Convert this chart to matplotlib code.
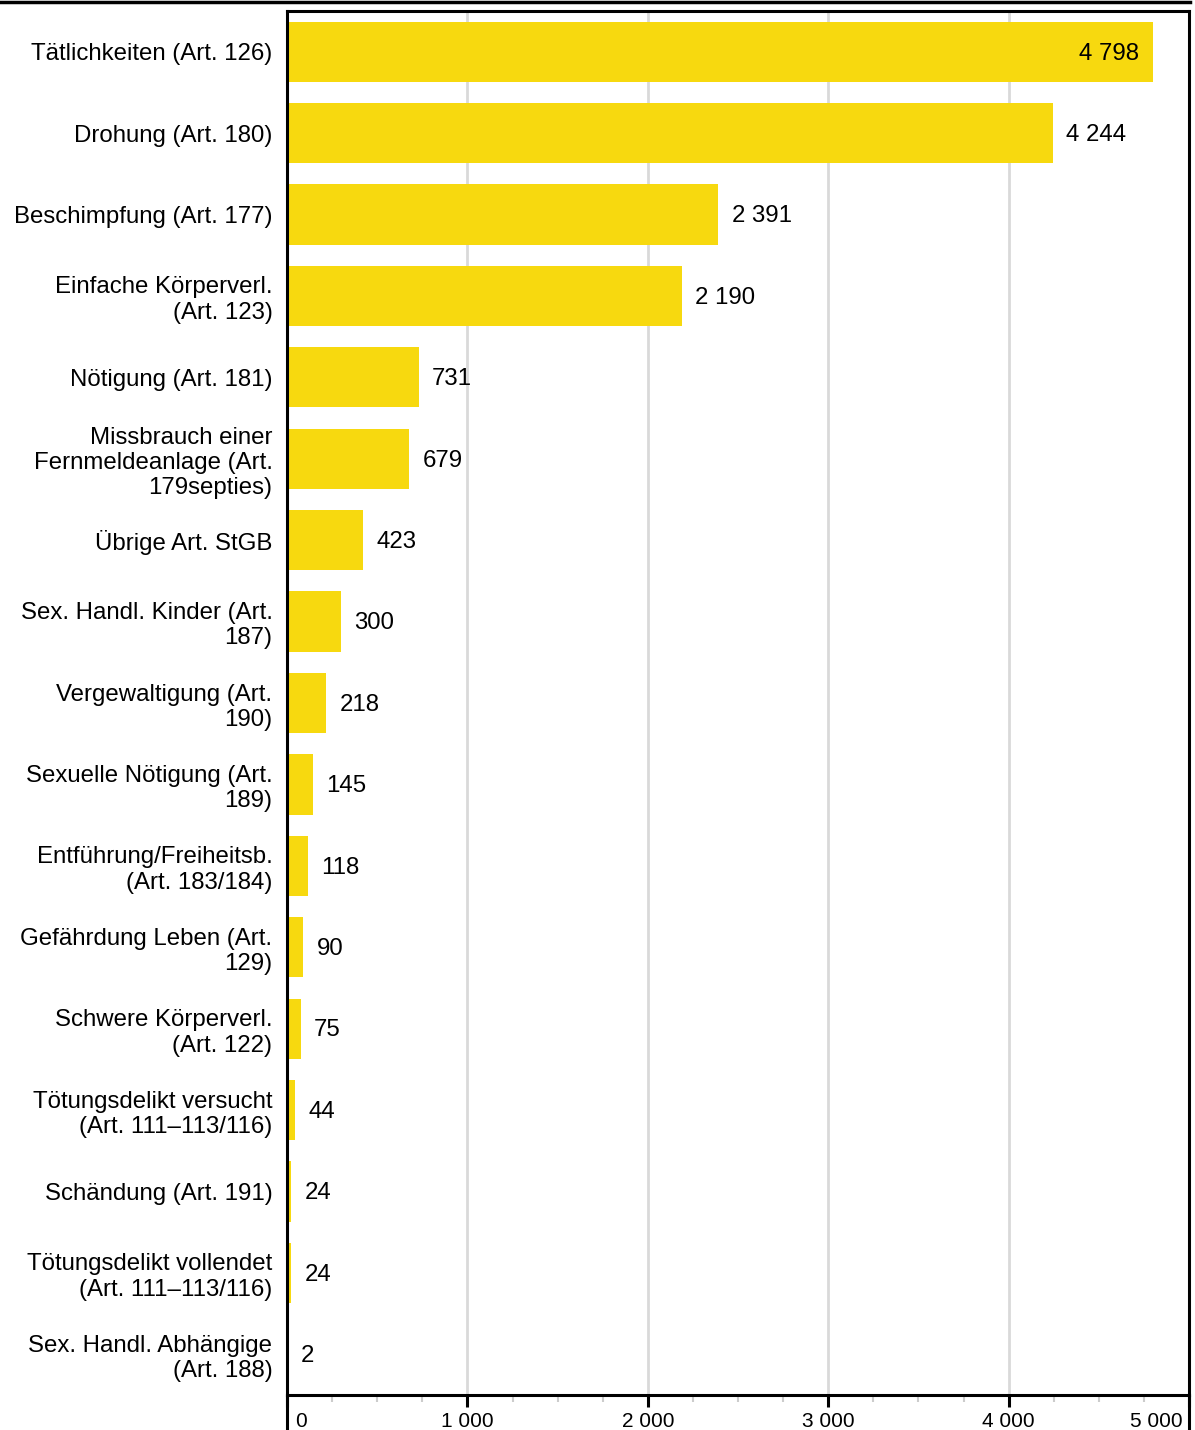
import matplotlib
matplotlib.use("Agg")
import matplotlib.pyplot as plt
from matplotlib.lines import Line2D
from matplotlib.ticker import MultipleLocator, FixedLocator

plt.rcParams['font.family'] = ['Liberation Sans', 'DejaVu Sans']

categories = [
    "Tätlichkeiten (Art. 126)",
    "Drohung (Art. 180)",
    "Beschimpfung (Art. 177)",
    "Einfache Körperverl.\n(Art. 123)",
    "Nötigung (Art. 181)",
    "Missbrauch einer\nFernmeldeanlage (Art.\n179septies)",
    "Übrige Art. StGB",
    "Sex. Handl. Kinder (Art.\n187)",
    "Vergewaltigung (Art.\n190)",
    "Sexuelle Nötigung (Art.\n189)",
    "Entführung/Freiheitsb.\n(Art. 183/184)",
    "Gefährdung Leben (Art.\n129)",
    "Schwere Körperverl.\n(Art. 122)",
    "Tötungsdelikt versucht\n(Art. 111–113/116)",
    "Schändung (Art. 191)",
    "Tötungsdelikt vollendet\n(Art. 111–113/116)",
    "Sex. Handl. Abhängige\n(Art. 188)",
]
values = [4798, 4244, 2391, 2190, 731, 679, 423, 300, 218, 145, 118, 90, 75, 44, 24, 24, 2]
x_ticks = [0, 1000, 2000, 3000, 4000, 5000]
x_ticklabels = ["0", "1 000", "2 000", "3 000", "4 000", "5 000"]

def fmt(v):
    return f"{v:,}".replace(",", " ")

FS = 17.3
W, H = 1195, 1430
fig = plt.figure(figsize=(W / 100, H / 100), dpi=100)
ax = fig.add_axes([287 / W, 1 - 1395 / H, (1189 - 287) / W, (1395 - 11) / H])

ypos = list(range(len(categories)))
ax.barh(ypos, values, height=0.74, color="#F7D90F", zorder=2)
ax.set_ylim(len(categories) - 0.5, -0.5)
ax.set_xlim(0, 5000)

ax.tick_params(axis="y", length=0, pad=10.5, labelsize=FS)
ax.tick_params(axis="x", which="major", length=8.5, width=2.2, color="black",
               labelbottom=False)
ax.tick_params(axis="x", which="minor", length=5, width=1.5, color="#cccccc")

ax.set_yticks(ypos)
ax.set_yticklabels(categories, fontsize=FS, ha="right", linespacing=1.2)

ax.xaxis.set_major_locator(FixedLocator(x_ticks))
ax.xaxis.set_minor_locator(MultipleLocator(250))

# x tick labels (0 left-aligned, 5 000 right-aligned, others centred)
tr = ax.get_xaxis_transform()
for i, (xv, lab) in enumerate(zip(x_ticks, x_ticklabels)):
    if i == 0:
        ha, dx = "left", 5.5
    elif i == len(x_ticks) - 1:
        ha, dx = "right", -4.5
    else:
        ha, dx = "center", 0
    ax.annotate(lab, (xv, 0), xycoords=tr, xytext=(dx, -12), textcoords="offset points",
                ha=ha, va="top", fontsize=15, annotation_clip=False)

ax.grid(axis="x", which="major", color="#d9d9d9", linewidth=2, zorder=0)
ax.set_axisbelow(True)
for s in ax.spines.values():
    s.set_linewidth(2.2)
    s.set_color("black")

for y, v in zip(ypos, values):
    if v > 4500:
        ax.annotate(fmt(v), (v, y), xytext=(-9.5, -1.3), textcoords="offset points",
                    ha="right", va="center", fontsize=FS)
    else:
        ax.annotate(fmt(v), (v, y), xytext=(9.5, -1.3), textcoords="offset points",
                    ha="left", va="center", fontsize=FS)

# spines extending below the axis
for xv in (0, ax.get_xlim()[1]):
    ax.add_line(Line2D([xv, xv], [0, -0.03], transform=tr, color="black",
                       linewidth=2.2, clip_on=False))

# top rule
fig.add_artist(Line2D([0, 1190 / W], [1 - 2 / H, 1 - 2 / H], transform=fig.transFigure,
                      color="black", linewidth=2.5))

fig.savefig("out.png", dpi=100)
